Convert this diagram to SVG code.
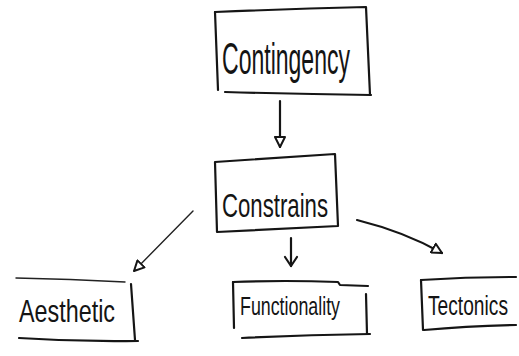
<svg xmlns="http://www.w3.org/2000/svg" width="519" height="356" viewBox="0 0 519 356">
  <style>
    .ink { fill: none; stroke: #151515; stroke-width: 2.2; stroke-linecap: round; stroke-linejoin: round; }
    .thin { fill: none; stroke: #222; stroke-width: 1.4; stroke-linecap: round; stroke-linejoin: round; }
    .label { font-family: "Liberation Sans", "DejaVu Sans", sans-serif; fill: #141414; font-weight: normal; }
  </style>
  <defs>
    <marker id="openTri" viewBox="0 0 12 12" refX="11" refY="6" markerWidth="12" markerHeight="12" markerUnits="userSpaceOnUse" orient="auto">
      <path d="M1,1 L11,6 L1,11 Z" fill="#fff" stroke="#151515" stroke-width="2" stroke-linejoin="round"/>
    </marker>
  </defs>
  <rect width="519" height="356" fill="#ffffff"/>

  <!-- connectors -->
  <g id="connectors">
    <path class="ink" d="M280,101 L280,147" marker-end="url(#openTri)"/>
    <path class="thin" d="M193,211 L134,271" marker-end="url(#openTri)"/>
    <path class="ink" d="M291,238 L291,266"/>
    <path class="ink" d="M285,257 L291,266 L297,257"/>
    <path class="ink" d="M357,220 Q405,232 442,253" marker-end="url(#openTri)"/>
  </g>

  <!-- top node -->
  <g id="contingency">
    <path class="ink" d="M215,12 Q290,9 366,7 L370,95"/>
    <path class="ink" d="M215,12 L218,90"/>
    <path class="ink" d="M225,92 Q300,94 371,95"/>
    <text class="label" x="222" y="74" font-size="44" textLength="128" lengthAdjust="spacingAndGlyphs">Contingency</text>
  </g>

  <!-- middle node -->
  <g id="constrains">
    <path class="ink" d="M215,162 Q275,158 335,154 L338,226 Q278,229 217,232 Z"/>
    <text class="label" x="222" y="217" font-size="34" textLength="106" lengthAdjust="spacingAndGlyphs">Constrains</text>
  </g>

  <!-- bottom nodes -->
  <g id="aesthetic">
    <path class="thin" d="M16,278 Q70,279 125,282"/>
    <path class="ink" d="M131,284 L135,340"/>
    <path class="ink" d="M19,338 Q78,342 138,341"/>
    <text class="label" x="19" y="322" font-size="32" textLength="96" lengthAdjust="spacingAndGlyphs">Aesthetic</text>
  </g>

  <g id="functionality">
    <path class="ink" d="M233,282 Q285,280 338,282 L340,285 L368,286"/>
    <path class="ink" d="M233,282 L234,328"/>
    <path class="ink" d="M366,294 L367,334"/>
    <path class="ink" d="M242,338 Q305,335 370,334"/>
    <text class="label" x="240" y="315" font-size="26" textLength="100" lengthAdjust="spacingAndGlyphs">Functionality</text>
  </g>

  <g id="tectonics">
    <path class="ink" d="M421,280 Q468,277 516,277"/>
    <path class="ink" d="M421,280 L423,330"/>
    <path class="ink" d="M424,330 Q468,326 516,325"/>
    <text class="label" transform="translate(428,315) scale(1,1.4)" x="0" y="0" font-size="20" textLength="80" lengthAdjust="spacingAndGlyphs">Tectonics</text>
  </g>
</svg>
